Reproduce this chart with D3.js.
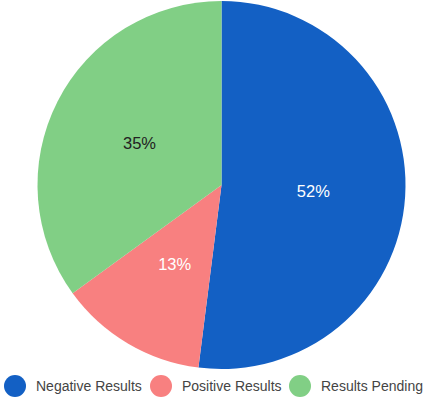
<!DOCTYPE html>
<html><head><meta charset="utf-8">
<script src="https://cdn.jsdelivr.net/npm/d3@7"></script>
<style>body{margin:0;background:#fff}svg{display:block}</style>
</head><body>
<svg id="c" width="425" height="402"></svg>
<script>
const categories = ["Negative Results", "Positive Results", "Results Pending"];
const values = [52, 13, 35];
const colors = ["#1360C4", "#F88080", "#81CF85"];
const labelColors = ["#ffffff", "#ffffff", "#222222"];

const svg = d3.select("#c");
const cx = 221.5, cy = 185, r = 184;
const pie = d3.pie().sort(null).value(d => d)(values);
const arc = d3.arc().innerRadius(0).outerRadius(r);
const labelArc = d3.arc().innerRadius(r * 0.5).outerRadius(r * 0.5);
const g = svg.append("g").attr("transform", `translate(${cx},${cy})`);
g.selectAll("path").data(pie).join("path")
  .attr("d", arc).attr("fill", (d, i) => colors[i]);
const total = d3.sum(values);
g.selectAll("text").data(pie).join("text")
  .attr("transform", d => `translate(${labelArc.centroid(d)})`)
  .attr("text-anchor", "middle").attr("dominant-baseline", "central")
  .attr("font-family", "Arial, 'Liberation Sans', sans-serif").attr("font-size", 16.5)
  .attr("fill", (d, i) => labelColors[i])
  .text(d => Math.round(d.data / total * 100) + "%");

const legendX = [15, 161, 300];
const lg = svg.append("g");
categories.forEach((c, i) => {
  const it = lg.append("g").attr("transform", `translate(${legendX[i]},386)`);
  it.append("circle").attr("r", 11).attr("fill", colors[i]);
  it.append("text").attr("x", 21).attr("dominant-baseline", "central")
    .attr("font-family", "Arial, 'Liberation Sans', sans-serif").attr("font-size", 14)
    .attr("fill", "#444").text(c);
});
</script>
</body></html>
